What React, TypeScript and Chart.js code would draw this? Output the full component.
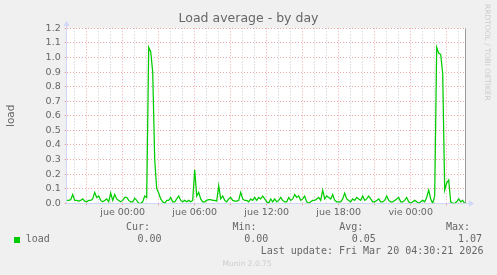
import React, { useEffect, useRef } from 'react';
import { Chart, registerables } from 'chart.js';

Chart.register(...registerables);

const TITLE = 'Load average - by day';
const Y_LABEL = 'load';
const SERIES_LABEL = 'load';
const START_HOUR = -14 / 3; // Wed 19:20, hours relative to Thu 00:00
const STEP_HOURS = 1 / 6; // 10-minute samples
const END_HOUR = START_HOUR + 33.25;

const loadValues = [
  0.02, 0.02, 0.025, 0.06, 0.02, 0.02, 0.015, 0.02, 0.03, 0.015,
  0.01, 0.02, 0.02, 0.03, 0.075, 0.04, 0.05, 0.02, 0.01, 0.02,
  0.03, 0.01, 0.07, 0.02, 0.06, 0.03, 0.02, 0.01, 0.02, 0.04,
  0.04, 0.02, 0.01, 0.01, 0.035, 0.02, 0.0, 0.0, 0.01, 0.05,
  0.04, 1.07, 1.04, 0.9, 0.3, 0.1, 0.07, 0.03, 0.01, 0.0,
  0.02, 0.02, 0.04, 0.01, 0.01, 0.03, 0.05, 0.02, 0.01, 0.02,
  0.01, 0.02, 0.01, 0.02, 0.23, 0.05, 0.075, 0.03, 0.01, 0.01,
  0.02, 0.025, 0.025, 0.02, 0.02, 0.015, 0.12, 0.03, 0.05, 0.02,
  0.01, 0.03, 0.04, 0.02, 0.015, 0.015, 0.02, 0.075, 0.03, 0.02,
  0.02, 0.01, 0.03, 0.02, 0.04, 0.02, 0.04, 0.03, 0.05, 0.03,
  0.01, 0.0, 0.03, 0.01, 0.03, 0.01, 0.02, 0.04, 0.02, 0.01,
  0.01, 0.04, 0.02, 0.03, 0.06, 0.04, 0.05, 0.02, 0.03, 0.05,
  0.01, 0.0, 0.01, 0.02, 0.02, 0.03, 0.04, 0.02, 0.09, 0.03,
  0.05, 0.04, 0.03, 0.06, 0.02, 0.01, 0.01, 0.01, 0.03, 0.07,
  0.03, 0.02, 0.01, 0.03, 0.02, 0.04, 0.03, 0.02, 0.05, 0.02,
  0.03, 0.05, 0.03, 0.01, 0.01, 0.02, 0.03, 0.01, 0.01, 0.02,
  0.05, 0.02, 0.01, 0.01, 0.02, 0.03, 0.04, 0.01, 0.01, 0.02,
  0.04, 0.01, 0.0, 0.01, 0.02, 0.01, 0.0, 0.01, 0.02, 0.01,
  0.04, 0.09, 0.03, 0.0, 0.05, 1.07, 1.03, 1.02, 0.89, 0.09,
  0.14, 0.16, 0.01, 0.0, 0.0, 0.01, 0.03, 0.01, 0.02, 0.0,
];

const Y_MIN = 0;
const Y_MAX = 1.2;
const Y_STEP = 0.1;
const hourTicks = [-4, -3, -2, -1, 0, 1, 2, 3, 4, 5, 6, 7, 8, 9, 10, 11, 12, 13, 14, 15, 16, 17, 18, 19, 20, 21, 22, 23, 24, 25, 26, 27, 28];
const xLabelHours = [0, 6, 12, 18, 24];
const xLabelTexts = ['jue 00:00', 'jue 06:00', 'jue 12:00', 'jue 18:00', 'vie 00:00'];
const summaryHeads = ['Cur:', 'Min:', 'Avg:', 'Max:'];
const summaryValues = ['0.00', '0.00', '0.05', '1.07'];
const LAST_UPDATE = 'Last update: Fri Mar 20 04:30:21 2026';
const MUNIN_VERSION = 'Munin 2.0.75';
const WATERMARK = 'RRDTOOL / TOBI OETIKER';

const FONT = "'DejaVu Sans', sans-serif";
const MONO = "'DejaVu Sans Mono', monospace";
const TEXT = '#666666';
const MGRID = 'rgba(225, 60, 60, 0.45)';
const GRID = 'rgba(140, 140, 140, 0.45)';
const AXIS = '#CFD6F8';
const LINE = '#00CC00';

const muninFrame = {
  id: 'muninFrame',
  beforeDraw(chart: any) {
    const { ctx, chartArea: a } = chart;
    ctx.save();
    ctx.fillStyle = '#ffffff';
    ctx.fillRect(a.left, a.top, a.right - a.left, a.bottom - a.top);
    ctx.restore();
  },
  beforeDatasetsDraw(chart: any) {
    const { ctx, chartArea: a } = chart;
    const lx = Math.floor(a.left) + 0.5;
    const by = Math.floor(a.bottom) + 0.5;
    const rx = Math.floor(a.right) + 0.5;
    ctx.save();
    ctx.lineWidth = 1;
    ctx.strokeStyle = '#999999';
    ctx.beginPath();
    ctx.moveTo(rx, a.top);
    ctx.lineTo(rx, by);
    ctx.stroke();
    ctx.strokeStyle = AXIS;
    ctx.fillStyle = AXIS;
    ctx.beginPath();
    ctx.moveTo(lx, by);
    ctx.lineTo(lx, a.top - 2.5);
    ctx.moveTo(lx, by);
    ctx.lineTo(a.right + 4, by);
    ctx.stroke();
    ctx.beginPath();
    ctx.moveTo(lx - 3, a.top - 2.3);
    ctx.lineTo(lx + 3, a.top - 2.3);
    ctx.lineTo(lx, a.top - 7.5);
    ctx.closePath();
    ctx.fill();
    ctx.beginPath();
    ctx.moveTo(a.right + 3.5, by - 3);
    ctx.lineTo(a.right + 3.5, by + 3);
    ctx.lineTo(a.right + 8.5, by);
    ctx.closePath();
    ctx.fill();
    ctx.restore();
  },
};

function Txt(props: { x: number; base: number; size: number; family: string; color: string; text: string }) {
  const { x, base, size, family, color, text } = props;
  return (
    <div
      style={{
        position: 'absolute',
        left: x,
        top: base - 0.846 * size,
        fontFamily: family,
        fontSize: size,
        lineHeight: `${size}px`,
        color,
        whiteSpace: 'pre',
      }}
    >
      {text}
    </div>
  );
}

export default function App() {
  const ref = useRef<HTMLCanvasElement | null>(null);

  useEffect(() => {
    if (!ref.current) return;
    const chart = new Chart(ref.current, {
      type: 'line',
      data: {
        datasets: [
          {
            label: SERIES_LABEL,
            data: loadValues.map((v, i) => ({ x: START_HOUR + i * STEP_HOURS, y: v })),
            borderColor: LINE,
            backgroundColor: LINE,
            borderWidth: 1.25,
            pointRadius: 0,
            tension: 0,
            fill: false,
            yAxisID: 'y',
          },
        ],
      },
      options: {
        animation: false,
        responsive: false,
        devicePixelRatio: 1,
        layout: { padding: { left: 0, right: 0, top: 0, bottom: 51.7 } },
        plugins: {
          legend: { display: false },
          tooltip: { enabled: false },
          title: {
            display: true,
            text: TITLE,
            color: TEXT,
            font: { family: FONT, size: 12.5, weight: 'normal' },
            padding: { top: 11.5, bottom: 1.8 },
          },
        },
        scales: {
          x: {
            type: 'linear',
            min: START_HOUR,
            max: END_HOUR,
            afterBuildTicks: (s: any) => {
              s.ticks = hourTicks.map((v) => ({ value: v }));
            },
            afterFit: (s: any) => {
              s.height = 20;
            },
            ticks: {
              autoSkip: false,
              maxRotation: 0,
              minRotation: 0,
              padding: 2,
              color: TEXT,
              font: { family: FONT, size: 9.5 },
              callback: (value: any) => {
                const k = xLabelHours.indexOf(Number(value));
                return k >= 0 ? xLabelTexts[k] : '';
              },
            },
            grid: {
              color: (c: any) => (c.tick && c.tick.value % 3 === 0 ? MGRID : GRID),
              lineWidth: 1,
              drawTicks: true,
              tickLength: 2,
              tickColor: (c: any) => (c.tick && c.tick.value % 3 === 0 ? MGRID : 'rgba(0,0,0,0)'),
            },
            border: { display: false, dash: [1, 2] },
          },
          y: {
            type: 'linear',
            position: 'left',
            min: Y_MIN,
            max: Y_MAX,
            afterFit: (s: any) => {
              s.width = 66.7;
            },
            ticks: {
              stepSize: Y_STEP,
              autoSkip: false,
              padding: 4,
              color: TEXT,
              font: { family: FONT, size: 9.5 },
              callback: (value: any) => Number(value).toFixed(1),
            },
            grid: {
              color: (c: any) => (c.tick && Math.abs(c.tick.value) < 1e-9 ? 'rgba(0,0,0,0)' : MGRID),
              lineWidth: 1,
              drawTicks: true,
              tickLength: 2,
              tickColor: MGRID,
            },
            border: { display: false, dash: [1, 2] },
            title: {
              display: true,
              text: Y_LABEL,
              color: TEXT,
              font: { family: FONT, size: 10.5, weight: 'normal' },
              padding: { top: 4.7, bottom: 0 },
            },
          },
          y2: {
            type: 'linear',
            position: 'right',
            display: true,
            afterFit: (s: any) => {
              s.width = 31.3;
            },
            ticks: { display: false },
            grid: { display: false, drawTicks: false },
            border: { display: false },
          },
        },
      },
      plugins: [muninFrame],
    } as any);
    return () => chart.destroy();
  }, []);

  const headX = [126, 232.5, 339.3, 446];
  const valX = [137.5, 244.2, 351.8, 458];

  return (
    <div
      style={{
        position: 'fixed',
        left: 0,
        top: 0,
        width: 497,
        height: 275,
        background: '#F0F0F0',
        overflow: 'hidden',
      }}
    >
      <canvas
        ref={ref}
        width={497}
        height={275}
        style={{ position: 'absolute', left: 0, top: 0, width: 497, height: 275, display: 'block' }}
      />
      <div
        style={{
          position: 'absolute',
          left: 492.3,
          top: 4.3,
          transformOrigin: '0 0',
          transform: 'rotate(90deg)',
          fontFamily: FONT,
          fontSize: 7.5,
          lineHeight: '9px',
          color: '#cccccc',
          whiteSpace: 'nowrap',
        }}
      >
        {WATERMARK}
      </div>
      {summaryHeads.map((h, i) => (
        <Txt key={'h' + i} x={headX[i]} base={230.7} size={10} family={MONO} color={TEXT} text={h} />
      ))}
      <div style={{ position: 'absolute', left: 14, top: 237, width: 6, height: 6, background: LINE }} />
      <Txt x={25.8} base={242.7} size={10} family={MONO} color={TEXT} text={SERIES_LABEL} />
      {summaryValues.map((v, i) => (
        <Txt key={'v' + i} x={valX[i]} base={242.7} size={10} family={MONO} color={TEXT} text={v} />
      ))}
      <Txt x={260.7} base={254.5} size={10} family={MONO} color={TEXT} text={LAST_UPDATE} />
      <Txt x={222.6} base={266.7} size={7.5} family={FONT} color="#cccccc" text={MUNIN_VERSION} />
    </div>
  );
}
